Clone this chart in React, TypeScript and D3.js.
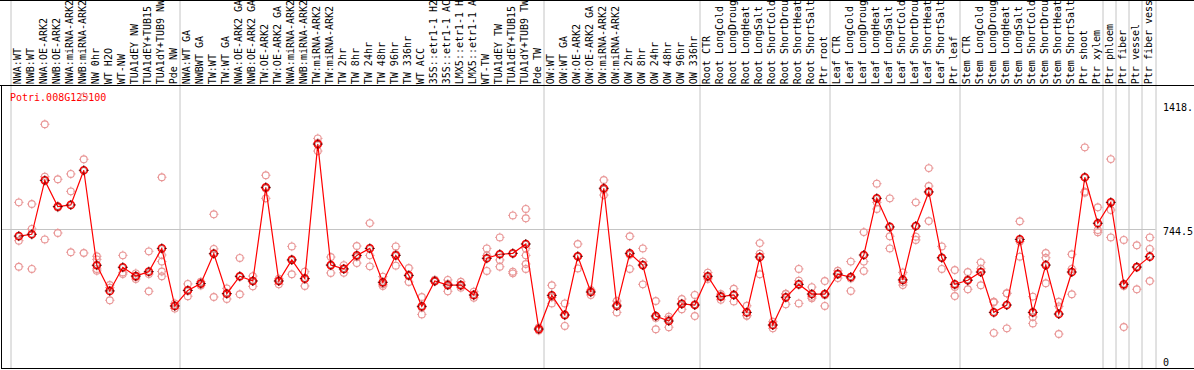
import React from "react";
import * as d3 from "d3";

const categories: string[] = [
  "NWA:WT", "NWB:WT", "NWA:OE-ARK2", "NWB:OE-ARK2", "NWA:miRNA-ARK2", "NWB:miRNA-ARK2",
  "NW 0hr", "WT H2O", "WT-NW", "TUA1dEY NW", "TUA1dEY+TUB15 NW", "TUA1dY+TUB9 NW", "Pde NW",
  "NWA:WT GA", "NWBWT GA", "TW:WT", "TW:WT GA", "NWA:OE-ARK2 GA", "NWB:OE-ARK2 GA", "TW:OE-ARK2",
  "TW:OE-ARK2 GA", "NWA:miRNA-ARK2 GA", "NWB:miRNA-ARK2 GA", "TW:miRNA-ARK2", "TW:miRNA-ARK2 GA",
  "TW 2hr", "TW 8hr", "TW 24hr", "TW 48hr", "TW 96hr", "TW 336hr", "WT ACC",
  "35S::etr1-1 H2O", "35S::etr1-1 ACC", "LMX5::etr1-1 H2O", "LMX5::etr1-1 ACC", "WT-TW",
  "TUA1dEY TW", "TUA1dEY+TUB15 TW", "TUA1dY+TUB9 TW", "Pde TW",
  "OW:WT", "OW:WT GA", "OW:OE-ARK2", "OW:OE-ARK2 GA", "OW:miRNA-ARK2", "OW:miRNA-ARK2 GA",
  "OW 2hr", "OW 8hr", "OW 24hr", "OW 48hr", "OW 96hr", "OW 336hr",
  "Root CTR", "Root LongCold", "Root LongDrought", "Root LongHeat", "Root LongSalt",
  "Root ShortCold", "Root ShortDrought", "Root ShortHeat", "Root ShortSalt", "Ptr root",
  "Leaf CTR", "Leaf LongCold", "Leaf LongDrought", "Leaf LongHeat", "Leaf LongSalt",
  "Leaf ShortCold", "Leaf ShortDrought", "Leaf ShortHeat", "Leaf ShortSalt", "Ptr leaf",
  "Stem CTR", "Stem LongCold", "Stem LongDrought", "Stem LongHeat", "Stem LongSalt",
  "Stem ShortCold", "Stem ShortDrought", "Stem ShortHeat", "Stem ShortSalt", "Ptr shoot", "Ptr xylem",
  "Ptr phloem", "Ptr fiber", "Ptr vessel", "Ptr fiber vessel",
];

const means: number[] = [
  703, 713, 1007, 864, 873, 1062, 544, 404, 533, 485, 509, 636, 322,
  407, 444, 607, 389, 484, 458, 969, 458, 573, 471, 1205, 545, 524, 598, 636, 451, 598,
  489, 320, 458, 436, 436, 382, 582, 604, 609, 660, 196,
  380, 273, 593, 398, 964, 322, 609, 545, 267, 240, 333, 327,
  484, 373, 382, 287, 589, 218, 369, 440, 387, 387,
  496, 480, 600, 909, 753, 464, 758, 944, 585, 440,
  462, 507, 287, 327, 685, 287, 545, 278, 507, 1024, 773,
  887, 440, 534, 591,
];

const replicates: number[][] = [
  [887, 678, 536], [878, 742, 524], [1313, 1027, 685], [1013, 859, 720], [1042, 947, 615],
  [1463, 1122, 611], [593, 576, 524, 514], [436, 422, 353], [598, 505, 496], [500, 480, 469],
  [620, 496, 402], [1024, 600, 564, 484, 510], [336, 322, 308],
  [442, 407, 375], [454, 444, 434], [822, 633, 371], [418, 389, 360], [584, 482, 386],
  [485, 460, 429], [1035, 963, 909], [471, 462, 440], [647, 577, 495], [509, 473, 431],
  [1236, 1212, 1167], [589, 544, 502], [545, 524, 503], [649, 589, 556], [774, 598, 538],
  [482, 440, 431], [647, 605, 542], [529, 486, 453], [371, 313, 276], [465, 458, 455],
  [464, 443, 402], [454, 432, 422], [400, 379, 367], [636, 597, 513], [696, 573, 536],
  [816, 509, 500], [851, 800, 636, 598, 524, 551], [205, 196, 188],
  [435, 369, 336], [336, 270, 213], [660, 592, 527], [409, 403, 382], [1009, 956, 927],
  [349, 330, 287], [702, 601, 524], [636, 564, 440], [349, 257, 195], [264, 250, 206],
  [360, 335, 304], [382, 332, 267],
  [504, 479, 469], [387, 376, 356], [416, 383, 347], [323, 269, 269], [665, 607, 495],
  [236, 218, 200], [389, 387, 331], [524, 460, 336], [425, 372, 364], [458, 381, 322],
  [500, 474, 514], [564, 472, 404], [725, 564, 513], [989, 887, 851], [909, 702, 636],
  [505, 451, 436], [887, 700, 682], [1074, 976, 785], [647, 585, 524], [518, 426, 376],
  [507, 466, 413], [560, 525, 435], [345, 342, 175], [391, 391, 200], [784, 673, 591],
  [373, 262, 227], [611, 585, 446], [345, 320, 169], [604, 524, 386], [1187, 945, 940],
  [860, 736, 724],
  [1123, 845, 696], [682, 431, 207], [653, 536, 413], [696, 633, 458],
];

const groupBoundaries: number[] = [0, 13, 41, 53, 63, 73, 84, 85, 86, 87, 88];
const yTickValues: number[] = [1418, 744.5, 0];
const yTickLabels: string[] = ["1418.", "744.5", "0"];
const geneId = "Potri.008G125100";
const LABEL_CHARS = 14;

const W = 1194;
const H = 370;
const MONO = "'DejaVu Sans Mono', 'Liberation Mono', monospace";

function Marker({ cx, cy, kind }: { cx: number; cy: number; kind: "mean" | "rep" }) {
  const r = kind === "mean" ? 3.6 : 3.4;
  const t0 = r - 0.6;
  const t1 = r + 1.4;
  const color = kind === "mean" ? "#ff0000" : "#e99797";
  const ticks = `M${cx},${cy - t1}V${cy - t0}M${cx},${cy + t0}V${cy + t1}M${cx - t1},${cy}H${cx - t0}M${cx + t0},${cy}H${cx + t1}`;
  return (
    <g>
      <circle cx={cx} cy={cy} r={r} fill="none" stroke={color} strokeWidth={kind === "mean" ? 1.5 : 1.1} />
      {kind === "mean" && (
        <circle cx={cx} cy={cy} r={r - 0.9} fill="none" stroke="#5a0000" strokeWidth={0.6} strokeOpacity={0.7} />
      )}
      <path d={ticks} stroke={kind === "mean" ? "#400000" : color} strokeWidth={0.9} />
    </g>
  );
}

export default function App() {
  const col = d3.scaleLinear().domain([0, categories.length]).range([10.5, 1155.5]);
  const px = (i: number) => 18.8 + 13 * i;
  const y = d3.scaleLinear().domain([0, 1489]).range([365, 92]);

  const line = d3
    .line<number>()
    .x((_, i) => px(i))
    .y((d) => y(d));

  return (
    <svg
      width={W}
      height={H}
      style={{ position: "fixed", left: 0, top: 0, background: "#fff" }}
      fontFamily={MONO}
    >
      <rect x={0} y={0} width={W} height={H} fill="#fff" />

      {/* group separators */}
      {groupBoundaries.map((b) => (
        <line key={b} x1={Math.round(col(b))} x2={Math.round(col(b))} y1={0} y2={368} stroke="#c4c4c4" strokeWidth={1} />
      ))}

      {/* mid gridline */}
      <line x1={1} x2={col(88)} y1={Math.round(y(744.5)) + 0.5} y2={Math.round(y(744.5)) + 0.5} stroke="#c4c4c4" strokeWidth={1} />

      {/* frame */}
      <line x1={0} x2={W} y1={0.5} y2={0.5} stroke="#000" strokeWidth={1} />
      <line x1={0} x2={W} y1={85.5} y2={85.5} stroke="#000" strokeWidth={1} />
      <line x1={1.5} x2={1.5} y1={85} y2={369} stroke="#000" strokeWidth={1} />
      <line x1={1} x2={W} y1={368.5} y2={368.5} stroke="#000" strokeWidth={1} />

      {/* category labels (header shows the first 14 characters) */}
      <g>
        {categories.map((c, i) => (
          <text
            key={i}
            transform={`translate(${px(i) + 2.6},84.2) rotate(-90)`}
            fontSize={10}
            fill="#000"
          >
            {c.slice(0, LABEL_CHARS)}
          </text>
        ))}
      </g>

      {/* gene title */}
      <text x={10} y={100.5} fontSize={10} fill="#ff0000">
        {geneId}
      </text>

      {/* replicates */}
      {replicates.map((reps, i) =>
        reps.map((v, j) => <Marker key={`${i}-${j}`} cx={px(i)} cy={y(v)} kind="rep" />)
      )}

      {/* mean line */}
      <path d={line(means) || ""} fill="none" stroke="#ff0000" strokeWidth={1.2} />
      {means.map((v, i) => (
        <Marker key={`m${i}`} cx={px(i)} cy={y(v)} kind="mean" />
      ))}

      {/* right axis labels */}
      {yTickValues.map((v, i) => (
        <text key={i} x={1163} y={Math.min(y(v) + 6.3, 365.5)} fontSize={10} fill="#000">
          {yTickLabels[i]}
        </text>
      ))}
    </svg>
  );
}
